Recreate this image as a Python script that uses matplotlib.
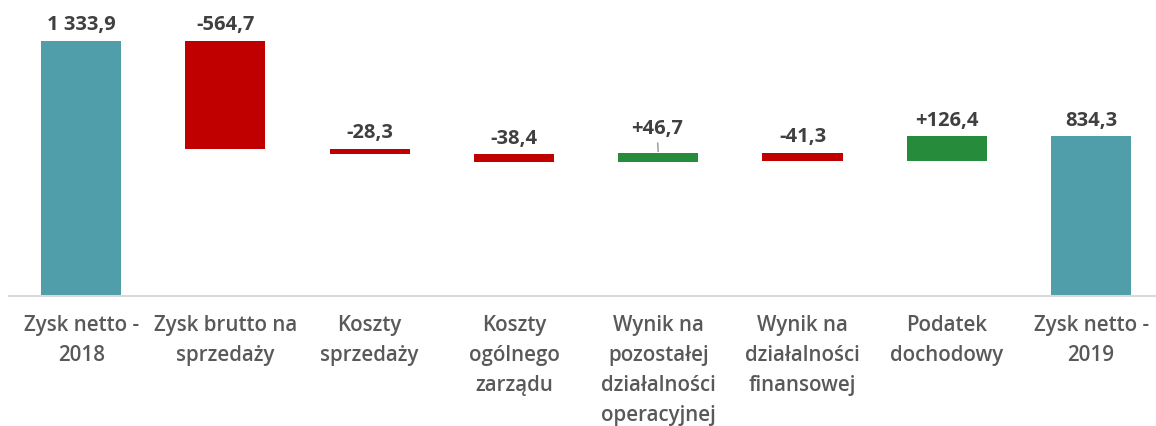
import numpy as np
import matplotlib.pyplot as plt

# waterfall: net profit 2018 -> 2019 (mln PLN)
categories = ["Zysk netto -\n2018", "Zysk brutto na\nsprzedaży", "Koszty\nsprzedaży",
              "Koszty\nogólnego\nzarządu", "Wynik na\npozostałej\ndziałalności\noperacyjnej",
              "Wynik na\ndziałalności\nfinansowej", "Podatek\ndochodowy", "Zysk netto -\n2019"]
values = [1333.9, -564.7, -28.3, -38.4, 46.7, -41.3, 126.4, 834.3]
is_total = [True, False, False, False, False, False, False, True]

teal = "#509EA9"
red = "#C00000"
green = "#268C3C"

plt.rcParams['font.family'] = ['Open Sans', 'DejaVu Sans']

fig = plt.figure(figsize=(11.56, 4.26), dpi=100)
ax = fig.add_axes([9 / 1156, 130 / 426, 1 - 9 / 1156, 296 / 426])

x = np.arange(len(values))
bottoms, heights, colors, tops = [], [], [], []
running = 0.0
for v, tot in zip(values, is_total):
    if tot:
        bottoms.append(0)
        heights.append(v)
        colors.append(teal)
        running = v
    else:
        start = running
        running = running + v
        bottoms.append(min(start, running))
        heights.append(abs(v))
        colors.append(green if v > 0 else red)
    tops.append(bottoms[-1] + heights[-1])

ax.bar(x, heights, bottom=bottoms, width=0.555, color=colors, zorder=2)


def fmt(v, tot):
    s = f"{abs(v):,.1f}".replace(",", " ").replace(".", ",")
    if tot:
        return s
    return ("+" if v > 0 else "-") + s


for i, (v, tot, top) in enumerate(zip(values, is_total, tops)):
    txt = fmt(v, tot)
    if i == 4:
        # small bar: label lifted with a leader line
        ax.annotate(txt, xy=(i, top), xytext=(-1, 10), textcoords="offset points",
                    ha="center", va="bottom", fontsize=14.5, fontweight="bold", color="#404040",
                    arrowprops=dict(arrowstyle="-", color="#A6A6A6", lw=1.2, shrinkA=1, shrinkB=1))
    else:
        ax.annotate(txt, xy=(i, top), xytext=(0, 4), textcoords="offset points",
                    ha="center", va="bottom", fontsize=14.5, fontweight="bold", color="#404040")

ax.set_xlim(-0.5, 7.45)
ax.set_ylim(0, 1548)
ax.set_xticks(x)
ax.set_xticklabels(categories, fontsize=14.8, fontweight="semibold", color="#595959",
                   linespacing=1.55)
ax.tick_params(axis="x", length=0, pad=14)
ax.set_yticks([])
for side in ["top", "right", "left"]:
    ax.spines[side].set_visible(False)
ax.spines["bottom"].set_color("#D9D9D9")
ax.spines["bottom"].set_linewidth(1.5)

fig.savefig("out.png", dpi=100)
